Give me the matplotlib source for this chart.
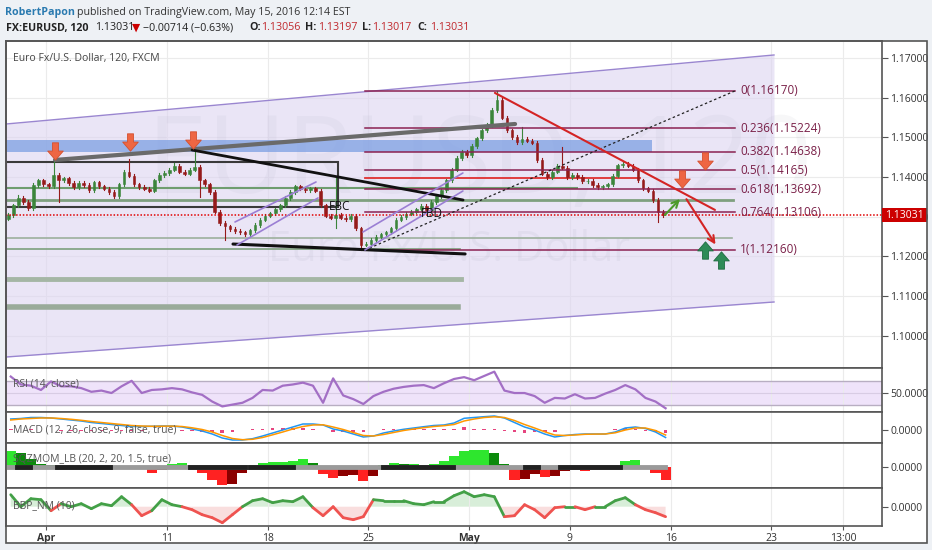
import matplotlib.pyplot as plt
import matplotlib.transforms as mtrans
from matplotlib.path import Path
from matplotlib.patches import Rectangle
from matplotlib.collections import LineCollection
import numpy as np

plt.rcParams['font.family'] = ['Open Sans', 'DejaVu Sans']

# x axis is in trading days, Apr 1 = 0 (weekends skipped)
tick_days = [0, 6, 11, 16, 21, 26, 31, 36, 39.55]
tick_labels = ["Apr", "11", "18", "25", "May", "9", "16", "23", "13:00"]
x_min, x_max = -2.0, 41.49

# candles, 4 per trading day starting Mar 30
closes = [1.1304, 1.1329, 1.1347, 1.1337, 1.1322, 1.1380, 1.1392, 1.1382, 1.1377, 1.1405,
          1.1392, 1.1397, 1.1385, 1.1375, 1.1385, 1.1380, 1.1367, 1.1387, 1.1377, 1.1370,
          1.1362, 1.1352, 1.1382, 1.1413, 1.1403, 1.1382, 1.1375, 1.1370, 1.1365, 1.1392,
          1.1405, 1.1410, 1.1418, 1.1428, 1.1413, 1.1408, 1.1418, 1.1425, 1.1392, 1.1382,
          1.1362, 1.1312, 1.1284, 1.1276, 1.1269, 1.1264, 1.1261, 1.1256, 1.1266, 1.1279,
          1.1292, 1.1302, 1.1309, 1.1319, 1.1329, 1.1347, 1.1362, 1.1377, 1.1370, 1.1367,
          1.1372, 1.1365, 1.1329, 1.1302, 1.1297, 1.1304, 1.1297, 1.1294, 1.1302, 1.1271,
          1.1229, 1.1231, 1.1241, 1.1249, 1.1256, 1.1261, 1.1271, 1.1292, 1.1299, 1.1307,
          1.1312, 1.1319, 1.1327, 1.1317, 1.1337, 1.1352, 1.1367, 1.1392, 1.1418, 1.1448,
          1.1463, 1.1455, 1.1478, 1.1498, 1.1518, 1.1531, 1.1569, 1.1594, 1.1549, 1.1518,
          1.1501, 1.1488, 1.1496, 1.1491, 1.1486, 1.1443, 1.1408, 1.1400, 1.1413, 1.1428,
          1.1423, 1.1400, 1.1405, 1.1400, 1.1390, 1.1390, 1.1380, 1.1375, 1.1377, 1.1382,
          1.1403, 1.1430, 1.1433, 1.1428, 1.1418, 1.1392, 1.1372, 1.1365, 1.1342, 1.1312,
          1.1303]
first_open = 1.1295
wick_highs = {2: 1.1355, 9: 1.1443, 24: 1.1445, 33: 1.1435, 37: 1.1473, 65: 1.1397,
              97: 1.1617, 102: 1.1526, 110: 1.1476}
wick_lows = {10: 1.1337, 38: 1.1350, 43: 1.1241, 65: 1.1271, 70: 1.1216, 129: 1.1287}

# indicators, 2 samples per trading day
rsi = [77, 64, 62, 55, 69, 61, 61, 58, 52, 54, 50, 61, 70, 50, 55, 56, 58, 56, 51, 47,
       36, 28, 31, 34, 42, 55, 54, 62, 64, 67, 62, 34, 74, 46, 40, 32, 45, 52, 57, 60,
       62, 63, 58, 66, 73, 76, 71, 78, 85, 54, 50, 50, 45, 34, 42, 41, 48, 41, 42, 49,
       55, 63, 56, 42, 36, 25]
macd = [0.0011, 0.00115, 0.00125, 0.00125, 0.0012, 0.0011, 0.0010, 0.0009, 0.00075, 0.00065,
        0.00055, 0.00045, 0.00035, 0.00035, 0.00037, 0.0004, 0.0004, 0.0003, 0.0001, -0.0001,
        -0.0004, -0.0008, -0.0010, -0.0010, -0.00087, -0.0006, -0.0003, 0.0, 0.0003, 0.0006,
        0.0006, 0.0005, 0.0001, -0.0001, -0.0004, -0.0007, -0.0006, -0.0003, -0.0001, 0.00007,
        0.0002, 0.00033, 0.00045, 0.0005, 0.0007, 0.00117, 0.00125, 0.00133, 0.0014, 0.0012,
        0.00075, 0.0003, 0.0, -0.0004, -0.0007, -0.00055, -0.00045, -0.0004, -0.0004, -0.0004,
        -0.0002, 0.0002, 0.0003, 0.00015, -0.0002, -0.00075]
signal = [0.0010, 0.0011, 0.00115, 0.0012, 0.0012, 0.00115, 0.00107, 0.00097, 0.00085, 0.00075,
          0.00065, 0.00055, 0.00045, 0.0004, 0.00037, 0.00038, 0.00039, 0.00035, 0.00022, 0.00005,
          -0.0002, -0.00055, -0.00085, -0.00097, -0.00093, -0.00075, -0.00048, -0.0002, 0.0001, 0.00035,
          0.0005, 0.00052, 0.0003, 0.00005, -0.00025, -0.00055, -0.0006, -0.00045, -0.00025, -0.00005,
          0.0001, 0.00023, 0.00035, 0.00043, 0.00055, 0.0009, 0.0011, 0.00125, 0.00132, 0.00125,
          0.00095, 0.00055, 0.0002, -0.00018, -0.0005, -0.00055, -0.0005, -0.00043, -0.00041, -0.0004,
          -0.00028, 0.0, 0.0002, 0.0002, -0.00005, -0.0005]
sqz = [0.0016, 0.0014, 0.0008, 0.0003, 0.0002, 0.0001, -0.0001, -0.00015, -0.0001, -0.0001,
       -0.0002, -0.0001, 0.0001, -0.0002, -0.0006, -0.0003, 0.0003, 0.0004, 0.0001, -0.0006,
       -0.0013, -0.0018, -0.0017, -0.0006, 0.0002, 0.0004, 0.0005, 0.0005, 0.0006, 0.0008,
       0.0004, -0.0007, -0.0011, -0.0009, -0.0008, -0.0014, -0.0009, 0.0002, 0.0004, 0.0003,
       0.0003, 0.0002, 0.0003, 0.0006, 0.0011, 0.0016, 0.0017, 0.0017, 0.0014, 0.0003,
       -0.0013, -0.0012, -0.0007, -0.0010, -0.0009, -0.0004, -0.0003, -0.0004, -0.0003, -0.0002,
       -0.0001, 0.0006, 0.0007, 0.0001, -0.0006, -0.0013]
squeeze_on = [(-1.44, -0.79), (0.55, 3.18), (7.15, 9.88), (10.12, 12.26), (16.72, 20.2),
              (23.77, 24.42), (25.5, 28.49)]
bbp = [0.0012, 0.0, 0.0008, 0.0007, -0.0004, 0.0003, 0.0, 0.0003, -0.0002, 0.0003,
       0.0001, 0.0010, 0.0002, -0.0009, -0.0004, 0.0007, 0.0002, 0.0, -0.0003, -0.0008,
       -0.0011, -0.0016, -0.0008, 0.0, 0.0006, 0.0008, 0.0004, 0.0006, 0.0005, 0.0010,
       -0.0001, -0.0009, 0.0, -0.0011, -0.0013, -0.0010, 0.0007, 0.0006, 0.0006, 0.0006,
       0.0003, 0.0002, 0.0005, 0.0005, 0.0011, 0.0015, 0.0010, 0.0012, 0.0010, -0.0010,
       -0.0009, 0.0002, -0.0003, -0.0011, -0.0001, 0.0, 0.0, -0.0003, 0.0, 0.0,
       0.0006, 0.0009, 0.0002, -0.0003, -0.0006, -0.0010]

# drawing objects on the price pane (day, price)
fib_high, fib_low = 1.16170, 1.12160
fib_ratios = [0, 0.236, 0.382, 0.5, 0.618, 0.764, 1]
channel_top = [(-1.985, 1.15336), (36.13, 1.17076)]
channel_bot = [(-1.985, 1.09462), (36.18, 1.10849)]
green_levels = [(1.1372, 26.35, 1.5, '#6f9d6f'), (1.1342, 34.1, 2.0, '#7fa07f'),
                (1.1246, 34.05, 1.2, '#9db09d'), (1.1218, 20.55, 1.2, '#7da07d'),
                (1.1143, 20.6, 3.5, '#a5b6a5'), (1.1072, 20.45, 4.0, '#9aab9a')]
trend_lines = [([0.447, 23.28], [1.1443, 1.15336], '#6a6a6a', 3.0),
               ([7.25, 20.7], [1.1468, 1.1342], '#111111', 2.0),
               ([9.28, 20.8], [1.1231, 1.1206], '#111111', 2.2),
               ([9.38, 13.40], [1.12866, 1.13874], '#9b7fd4', 1.2),
               ([9.48, 13.50], [1.12286, 1.13471], '#9b7fd4', 1.2),
               ([15.73, 20.69], [1.12613, 1.14101], '#9b7fd4', 1.2),
               ([15.83, 20.69], [1.12160, 1.13647], '#9b7fd4', 1.2),
               ([22.28, 33.20], [1.1612, 1.1317], '#d42424', 1.5)]
down_arrows = [(0.447, 1.14656), (4.17, 1.1487), (7.30, 1.14933), (31.56, 1.13962), (32.70, 1.14391)]
up_arrows = [(32.70, 1.1216), (33.50, 1.11895)]
last_price = 1.13031

fig = plt.figure(figsize=(9.32, 5.5), dpi=100)
fig.patch.set_facecolor('#eef1f5')

W, H = 932.0, 550.0
left, right = 5.7 / W, 882 / W


def pane(top_px, bot_px):
    return fig.add_axes([left, 1 - bot_px / H, right - left, (bot_px - top_px) / H])


# white chart box behind the panes, border on top
fig.add_artist(Rectangle((5.7 / W, 1 - 542.7 / H), 921 / W, 502 / H, transform=fig.transFigure,
                         facecolor='white', edgecolor='none', zorder=-5))
fig.add_artist(Rectangle((5.7 / W, 1 - 542.7 / H), 921 / W, 502 / H, transform=fig.transFigure,
                         facecolor='none', edgecolor='#555555', lw=1.2, zorder=10))

ax = pane(40.7, 368)
ax_rsi = pane(368, 412.3)
ax_macd = pane(412.3, 443.3)
ax_sqz = pane(443.3, 488.3)
ax_bbp = pane(488.3, 525.7)


def style(a, yticks, fmt):
    a.set_xlim(x_min, x_max)
    a.set_facecolor('white')
    a.yaxis.tick_right()
    a.set_yticks(yticks)
    a.set_yticklabels([fmt % v for v in yticks])
    a.tick_params(axis='y', length=4, width=0.8, colors='#555555', labelsize=7.5,
                  labelcolor='#333333', pad=2)
    a.set_xticks(tick_days)
    a.tick_params(axis='x', length=0, labelbottom=False)
    a.grid(True, axis='x', color='#ebebeb', lw=0.8, zorder=0)
    for s in a.spines.values():
        s.set_color('#555555')
        s.set_linewidth(1.2)


# ---- price pane
price_ticks = [1.10, 1.11, 1.12, 1.13, 1.14, 1.15, 1.16, 1.17]
style(ax, price_ticks, '%.5f')
ax.set_ylim(1.091849, 1.174361)
ax.grid(True, axis='y', color='#ebebeb', lw=0.8)
ax.set_axisbelow(True)

cx = [c[0] for c in channel_top]
ax.fill_between(cx, [c[1] for c in channel_bot], [c[1] for c in channel_top],
                color='#ddd4f1', alpha=0.6, lw=0, zorder=1)
ax.plot(cx, [c[1] for c in channel_top], color='#9a86d0', lw=1, zorder=2)
ax.plot(cx, [c[1] for c in channel_bot], color='#9a86d0', lw=1, zorder=2)

ax.text(21.5, 1.1432, "EURUSD, 120", fontsize=78, color='#9090a8', alpha=0.07,
        ha='center', va='center', zorder=1.5)
ax.text(20.0, 1.1215, "Euro Fx/U.S. Dollar", fontsize=30, color='#9090a8', alpha=0.09,
        ha='center', va='center', zorder=1.5)

ax.fill_between([-2.0, 30.07], 1.1463, 1.1493, color='#7da0e3', alpha=0.75, lw=0, zorder=2)
ax.add_patch(Rectangle((-2.0, 1.1324), 16.49, 0.0114, fill=False, ec='#3a3a3a', lw=1.5, zorder=2.5))
for p, x_end, lw, col in green_levels:
    ax.plot([-2.0, x_end], [p, p], color=col, lw=lw, zorder=2.2)
ax.plot([15.83, 29.48], [1.1398, 1.1398], color='#e03030', lw=1.3, zorder=2.2)

# candles
opens = [first_open] + closes[:-1]
cdays = -1.875 + 0.25 * np.arange(len(closes))
for k, (o, c) in enumerate(zip(opens, closes)):
    col = '#3b853b' if c >= o else '#951a1a'
    hi = wick_highs.get(k, max(o, c) + 0.0004)
    lo = wick_lows.get(k, min(o, c) - 0.0004)
    ax.plot([cdays[k], cdays[k]], [lo, hi], color=col, lw=0.8, zorder=3)
    ax.add_patch(Rectangle((cdays[k] - 0.065, min(o, c)), 0.13, max(abs(c - o), 0.00008),
                           facecolor=col, edgecolor=col, lw=0.4, zorder=3.1))

# fibonacci retracement
for r in fib_ratios:
    p = fib_high - r * (fib_high - fib_low)
    ax.plot([15.83, 34.19], [p, p], color='#8b2252', lw=1.1, zorder=4)
    ax.text(34.44, p, "%g(%.5f)" % (r, p), fontsize=8.5, color='#7a2048', va='center', zorder=6)
ax.plot([15.83, 34.19], [fib_low, fib_high], color='#222222', lw=0.9, ls=(0, (2, 2)), zorder=4)

ax.plot([x_min, x_max], [last_price, last_price], color='#e00000', lw=1.1, ls=(0, (1, 1.2)), zorder=4)

for xs, ys, col, lw in trend_lines:
    ax.plot(xs, ys, color=col, lw=lw, zorder=5, solid_capstyle='round')

ax.annotate('', xy=(33.30, 1.1224), xytext=(31.71, 1.1350),
            arrowprops=dict(arrowstyle='->', color='#d42424', lw=1.5, mutation_scale=12), zorder=5)
ax.annotate('', xy=(31.56, 1.13496), xytext=(30.62, 1.12992),
            arrowprops=dict(arrowstyle='->', color='#4c9a2a', lw=1.5, mutation_scale=12), zorder=5)

ax.text(14.59, 1.13244, "EBC", fontsize=8.5, color='#111111', ha='center', va='center', zorder=6)
ax.text(19.16, 1.13092, "FBD", fontsize=8.5, color='#111111', ha='center', va='center', zorder=6)

down_path = Path([(-0.35, 1), (0.35, 1), (0.35, 0.05), (0.9, 0.05), (0, -1), (-0.9, 0.05),
                  (-0.35, 0.05), (-0.35, 1)], closed=True)
up_path = Path([(x, -y) for x, y in down_path.vertices], closed=True)
ax.plot([a[0] for a in down_arrows], [a[1] for a in down_arrows], ls='none', marker=down_path,
        ms=12.5, mfc='#ee6643', mec='#d4502e', mew=0.6, zorder=7)
ax.plot([a[0] for a in up_arrows], [a[1] for a in up_arrows], ls='none', marker=up_path,
        ms=12.5, mfc='#2e8b57', mec='#1e6b40', mew=0.6, zorder=7)

# last price tag on the axis
blend = mtrans.blended_transform_factory(ax.transAxes, ax.transData)
ax.add_patch(Rectangle((1.0, last_price - 0.00176), 0.0514, 0.00352, transform=blend,
                       facecolor='#cc0000', edgecolor='none', clip_on=False, zorder=8))
ax.text(1.0257, last_price, "%.5f" % last_price, transform=blend, color='white', fontsize=7.5,
        ha='center', va='center', clip_on=False, zorder=9)

# ---- RSI
idays = -1.75 + 0.5 * np.arange(len(rsi))
style(ax_rsi, [50], '%.4f')
ax_rsi.set_ylim(18.4, 91)
ax_rsi.fill_between([x_min, x_max], 30, 70, color='#efe3fa', lw=0, zorder=1)
ax_rsi.axhline(70, color='#b8aec2', lw=1, zorder=2)
ax_rsi.axhline(30, color='#b8aec2', lw=1, zorder=2)
ax_rsi.axhline(50, color='#d8cce4', lw=0.8, zorder=2)
ax_rsi.plot(idays, rsi, color='#a36fc5', lw=1.6, zorder=3)

# ---- MACD
style(ax_macd, [0], '%.4f')
ax_macd.set_ylim(-0.00133, 0.00177)
hist = np.array(macd) - np.array(signal)
ax_macd.bar(idays, hist, width=0.18, color='#e6457f', zorder=2)
ax_macd.plot(idays, macd, color='#2196f3', lw=1.1, zorder=3)
ax_macd.plot(idays, signal, color='#ff9800', lw=1.1, zorder=3)

# ---- squeeze momentum
style(ax_sqz, [0], '%.4f')
ax_sqz.set_ylim(-0.00216, 0.00234)
sqz_cols = []
for j, v in enumerate(sqz):
    prev = sqz[j - 1] if j > 0 else v
    if v >= 0:
        sqz_cols.append('#2ee62e' if v >= prev else '#0b8a0b')
    else:
        sqz_cols.append('#ff2222' if v <= prev else '#8b0000')
ax_sqz.bar(idays, sqz, width=0.5, color=sqz_cols, lw=0, zorder=2)
ax_sqz.plot([x_min + 0.1, 30.7], [0, 0], color='#9a9a9a', lw=3.5, zorder=3)
for a, b in squeeze_on:
    ax_sqz.plot([a, b], [0, 0], color='#222222', lw=3.5, zorder=3.5)

# ---- BBP
style(ax_bbp, [0], '%.4f')
ax_bbp.set_ylim(-0.0019, 0.00184)
bbp_arr = np.array(bbp)
ax_bbp.fill_between(idays, 0, bbp_arr, where=bbp_arr >= 0, color='#bfe3c0', alpha=0.6, lw=0,
                    interpolate=True, zorder=1)
ax_bbp.fill_between(idays, 0, bbp_arr, where=bbp_arr < 0, color='#f6c9c9', alpha=0.6, lw=0,
                    interpolate=True, zorder=1)
segs = [[(idays[j], bbp[j]), (idays[j + 1], bbp[j + 1])] for j in range(len(bbp) - 1)]
seg_cols = ['#43a047' if bbp[j] + bbp[j + 1] >= 0 else '#ef5350' for j in range(len(bbp) - 1)]
ax_bbp.add_collection(LineCollection(segs, colors=seg_cols, lw=2, zorder=3, capstyle='round'))

ax_bbp.tick_params(axis='x', length=3, width=0.8, colors='#555555', labelbottom=True,
                   labelsize=7.5, labelcolor='#333333', pad=2)
ax_bbp.set_xticklabels(tick_labels)
for lab in ax_bbp.get_xticklabels():
    if lab.get_text() in ("Apr", "May"):
        lab.set_fontweight('bold')

# ---- texts
fig.text(13 / W, 1 - 58 / H, "Euro Fx/U.S. Dollar, 120, FXCM", fontsize=7.5, color='#444444', va='center')
fig.text(13 / W, 1 - 384 / H, "RSI (14, close)", fontsize=7.5, color='#555555', va='center')
fig.text(13 / W, 1 - 430 / H, "MACD (12, 26, close, 9, false, true)", fontsize=7.5, color='#555555', va='center')
fig.text(13 / W, 1 - 459 / H, "SQZMOM_LB (20, 2, 20, 1.5, true)", fontsize=7.5, color='#555555', va='center')
fig.text(13 / W, 1 - 506 / H, "BBP_NM (10)", fontsize=7.5, color='#555555', va='center')

fig.text(5 / W, 1 - 12 / H, "RobertPapon", fontsize=7.7, color='#2a7ab0', fontweight='bold', va='center')
fig.text(77 / W, 1 - 12 / H, "published on TradingView.com, May 15, 2016 12:14 EST", fontsize=7.7,
         color='#333333', va='center')
header = [(6, "FX:EURUSD, 120", '#222222', 'bold'), (95, "1.13031", '#222222', 'normal'),
          (132, "\u25bc", '#cc0000', 'normal'), (143, "\u22120.00714 (\u22120.63%)", '#222222', 'normal'),
          (249, "O:", '#222222', 'bold'), (261, "1.13056", '#c0282d', 'normal'),
          (305, "H:", '#222222', 'bold'), (318, "1.13197", '#c0282d', 'normal'),
          (362, "L:", '#222222', 'bold'), (372, "1.13017", '#c0282d', 'normal'),
          (417, "C:", '#222222', 'bold'), (430, "1.13031", '#c0282d', 'normal')]
for x, s, col, wt in header:
    fig.text(x / W, 1 - 28 / H, s, fontsize=7.7, color=col, fontweight=wt, va='center')

plt.savefig("out.png", dpi=100, facecolor=fig.get_facecolor())
plt.close()
